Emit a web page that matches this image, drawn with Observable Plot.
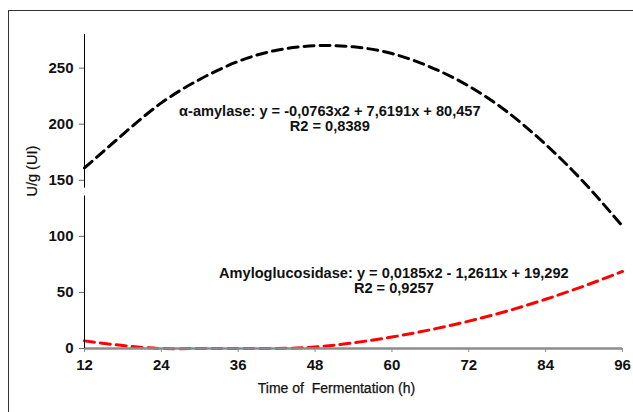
<!DOCTYPE html>
<html>
<head>
<meta charset="utf-8">
<script src="https://cdn.jsdelivr.net/npm/d3@7"></script>
<script src="https://cdn.jsdelivr.net/npm/@observablehq/plot@0.6"></script>
<style>
  html, body { margin: 0; padding: 0; background: #fff; overflow: hidden; width: 633px; height: 412px; }
  #wrap { position: relative; width: 633px; height: 412px; }
  #frame { position: absolute; left: 8px; top: 10px; width: 700px; height: 500px; border: 1px solid #333; box-sizing: border-box; }
  #chart { position: absolute; left: 0; top: 0; }
</style>
</head>
<body>
<div id="wrap"><div id="frame"></div><div id="chart"></div></div>
<script>
const hours = [12, 18, 24, 30, 36, 42, 48, 54, 60, 66, 72, 78, 84, 90, 96];
const alphaAmylase = [161, 191, 219, 240, 256, 266, 270, 269, 263, 251, 234, 211, 182, 148, 109];
const amyloglucosidase = [6.8, 2.6, 0, 0, 0, 0, 1.4, 5.1, 10.2, 16.7, 24.4, 33.4, 43.9, 55.7, 68.7];
const xTicks = [12, 24, 36, 48, 60, 72, 84, 96];
const yTicks = [0, 50, 100, 150, 200, 250];
const yAxisBreak = [[0, 136], [143, 280]];
const labelAlpha = ["α-amylase: y = -0,0763x2 + 7,6191x + 80,457", "R2 = 0,8389"];
const labelGluco = ["Amyloglucosidase: y = 0,0185x2 - 1,2611x + 19,292", "R2 = 0,9257"];
const xTitle = "Time of  Fermentation (h)";
const yTitle = "U/g (UI)";

const alphaData = hours.map((h, i) => ({x: h, y: alphaAmylase[i]}));
const glucoData = hours.map((h, i) => ({x: h, y: amyloglucosidase[i]}));
const breakData = yAxisBreak.map(([a, b]) => ({y1: a, y2: b}));

const annot = {fontSize: 14.6, fontWeight: "bold", fill: "#111", text: d => d};

const chart = Plot.plot({
  width: 633,
  height: 412,
  marginLeft: 84,
  marginRight: 11,
  marginTop: 34,
  marginBottom: 64,
  style: {fontFamily: "'Liberation Sans', Arial, sans-serif", background: "transparent", color: "#111"},
  x: {domain: [12, 96]},
  y: {domain: [0, 280]},
  marks: [
    Plot.line(glucoData, {x: "x", y: "y", stroke: "#ff0000", strokeWidth: 3, strokeDasharray: "10,6", curve: "natural"}),
    Plot.line(alphaData, {x: "x", y: "y", stroke: "#000", strokeWidth: 3, strokeDasharray: "10,6", curve: "natural"}),
    Plot.ruleY([0], {stroke: "#8c8c8c", strokeWidth: 2.5}),
    Plot.ruleX(breakData, {x: 12, y1: "y1", y2: "y2", stroke: "#000", strokeWidth: 1}),
    Plot.axisX({ticks: xTicks, tickSize: 4, tickPadding: 7, stroke: "#8c8c8c", fontSize: 15, fontWeight: "bold", fill: "#111", label: null, tickFormat: d => d}),
    Plot.axisY({ticks: yTicks, tickSize: 5, tickPadding: 6, stroke: "#666", fontSize: 15, fontWeight: "bold", fill: "#111", label: null, tickFormat: d => d}),
    Plot.text([labelAlpha[0]], {x: 50.3, y: 211.5, ...annot}),
    Plot.text([labelAlpha[1]], {x: 50.3, y: 211.5, dy: 14.5, ...annot}),
    Plot.text([labelGluco[0]], {x: 60.3, y: 67, ...annot}),
    Plot.text([labelGluco[1]], {x: 60.3, y: 67, dy: 14.5, ...annot}),
    Plot.text([xTitle], {frameAnchor: "bottom", dx: -17, dy: 44, text: d => d, fontSize: 14, fill: "#111", stroke: "#111", strokeWidth: 0.25}),
    Plot.text([yTitle], {frameAnchor: "left", dx: -52, dy: 5, rotate: -90, text: d => d, fontSize: 14.5, fill: "#111", stroke: "#111", strokeWidth: 0.2})
  ]
});
document.getElementById("chart").appendChild(chart);
</script>
</body>
</html>
